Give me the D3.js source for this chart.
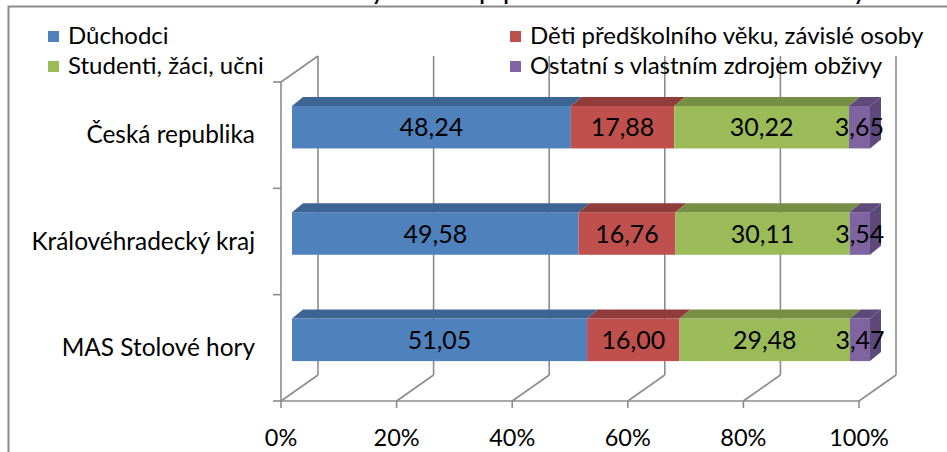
<!DOCTYPE html>
<html>
<head>
<meta charset="utf-8">
<script src="https://cdn.jsdelivr.net/npm/d3@7"></script>
<style>
  body { margin: 0; background: #fff; }
  svg { display: block; font-family: Lato, "Noto Sans", sans-serif; }
</style>
</head>
<body>
<svg id="chart" width="947" height="452"></svg>
<script>
// DATA
var categories = ["Česká republika", "Královéhradecký kraj", "MAS Stolové hory"];
var seriesNames = ["Důchodci", "Děti předškolního věku, závislé osoby", "Studenti, žáci, učni", "Ostatní s vlastním zdrojem obživy"];
var duchodci = [48.24, 49.58, 51.05];
var deti = [17.88, 16.76, 16.00];
var studenti = [30.22, 30.11, 29.48];
var ostatni = [3.65, 3.54, 3.47];
var tickValues = [0, 0.2, 0.4, 0.6, 0.8, 1];
var titleText = "Ekonomicky neaktivní populace dle statusu ekonomické aktivity";

// COLORS: front face, top/side face
var fronts = ["#4F81BD", "#C0504D", "#9BBB59", "#8064A2"];
var tops = ["#3D6594", "#8F3C3A", "#778F45", "#5E4A7A"];
var gridCol = "#8C8C8C";

var svg = d3.select("#chart");

// TABLE
var seriesVals = [duchodci, deti, studenti, ostatni];
var rows = categories.map(function(c, i) {
    var r = {cat: c};
    seriesNames.forEach(function(s, k) { r[s] = seriesVals[k][i]; });
    return r;
});
var stack = d3.stack().keys(seriesNames).offset(d3.stackOffsetExpand)(rows);

// SCALES (front plane of the floor)
var x = d3.scaleLinear().domain([0, 1]).range([281, 859]);
var y = d3.scaleBand().domain(categories).range([82, 401]).paddingInner(0.6).paddingOuter(0.3);
var WX = 37, WY = -26;   // wall depth
var BX = 11, BY = -8;    // bar front shift into depth
var DX = 11, DY = -9;    // bar thickness in depth

// BORDER
svg.append("path")
    .attr("d", "M8.5,452 L8.5,6.5 L947,6.5")
    .attr("fill", "none").attr("stroke", gridCol).attr("stroke-width", 2);

// TITLE (cropped at top, as in the original)
svg.append("text")
    .attr("x", 567).attr("y", 0)
    .attr("text-anchor", "middle")
    .style("font-size", "21px").style("font-weight", "bold")
    .text(titleText);

var grid = svg.append("g").attr("fill", "none").attr("stroke", gridCol).attr("stroke-width", 1.6);

// back wall verticals
grid.selectAll("line.back").data(tickValues).enter().append("line")
    .attr("x1", function(d) { return x(d) + WX; }).attr("x2", function(d) { return x(d) + WX; })
    .attr("y1", 82 + WY).attr("y2", 401 + WY);
// floor diagonals
grid.selectAll("line.floor").data(tickValues).enter().append("line")
    .attr("x1", function(d) { return x(d); }).attr("y1", 401)
    .attr("x2", function(d) { return x(d) + WX; }).attr("y2", 401 + WY);
// front floor edge + ticks
grid.append("line").attr("x1", x(0)).attr("x2", x(1)).attr("y1", 401).attr("y2", 401);
grid.selectAll("line.tick").data(tickValues).enter().append("line")
    .attr("x1", function(d) { return x(d); }).attr("x2", function(d) { return x(d); })
    .attr("y1", 401).attr("y2", 408);
// left wall
grid.append("path").attr("d", "M" + x(0) + ",401 L" + x(0) + ",82 L" + (x(0) + WX) + "," + (82 + WY));
var catTicks = [82].concat(categories.slice(1).map(function(c) { return y(c) - y.step() * y.paddingInner() / 2; })).concat([401]);
grid.selectAll("line.ctick").data(catTicks).enter().append("line")
    .attr("x1", x(0) - 8).attr("x2", x(0)).attr("y1", function(d) { return d; }).attr("y2", function(d) { return d; });

// BARS
var bars = svg.append("g");
stack.forEach(function(layer, k) {
    layer.forEach(function(d) {
        var x0 = x(d[0]) + BX, x1 = x(d[1]) + BX;
        var yt = y(d.data.cat) + BY, yb = yt + y.bandwidth();
        bars.append("rect")
            .attr("x", x0).attr("y", yt).attr("width", x1 - x0).attr("height", yb - yt)
            .attr("fill", fronts[k]);
        bars.append("path")
            .attr("d", "M" + x0 + "," + yt + "L" + x1 + "," + yt + "L" + (x1 + DX) + "," + (yt + DY) + "L" + (x0 + DX) + "," + (yt + DY) + "Z")
            .attr("fill", tops[k]);
        if (k == stack.length - 1) {
            bars.append("path")
                .attr("d", "M" + x1 + "," + yt + "L" + (x1 + DX) + "," + (yt + DY) + "L" + (x1 + DX) + "," + (yb + DY) + "L" + x1 + "," + yb + "Z")
                .attr("fill", tops[k]);
        }
        bars.append("text")
            .attr("x", (x0 + x1) / 2).attr("y", (yt + yb) / 2 + 9)
            .attr("text-anchor", "middle")
            .style("font-size", "25px").attr("fill", "#000")
            .text(d3.format(".2f")(d.data[seriesNames[k]]).replace(".", ","));
    });
});

// CATEGORY LABELS
svg.selectAll("text.cat").data(categories).enter().append("text")
    .attr("x", 255).attr("y", function(d) { return y(d) + y.bandwidth() / 2 + 8; })
    .attr("text-anchor", "end").style("font-size", "24.4px")
    .text(function(d) { return d; });

// X AXIS LABELS
svg.selectAll("text.tk").data(tickValues).enter().append("text")
    .attr("x", function(d) { return x(d); }).attr("y", 446)
    .attr("text-anchor", "middle").style("font-size", "23.5px")
    .text(function(d) { return d3.format(".0%")(d); });

// LEGEND
var legPos = [[48, 36], [510, 36], [48, 66], [510, 66]];
var leg = svg.selectAll("g.leg").data(seriesNames).enter().append("g")
    .attr("transform", function(d, i) { return "translate(" + legPos[i][0] + "," + legPos[i][1] + ")"; });
leg.append("rect").attr("x", 0).attr("y", -5).attr("width", 11).attr("height", 11)
    .attr("fill", function(d, i) { return fronts[i]; });
leg.append("text").attr("x", 20).attr("y", 8).style("font-size", "24px")
    .text(function(d) { return d; });
</script>
</body>
</html>
